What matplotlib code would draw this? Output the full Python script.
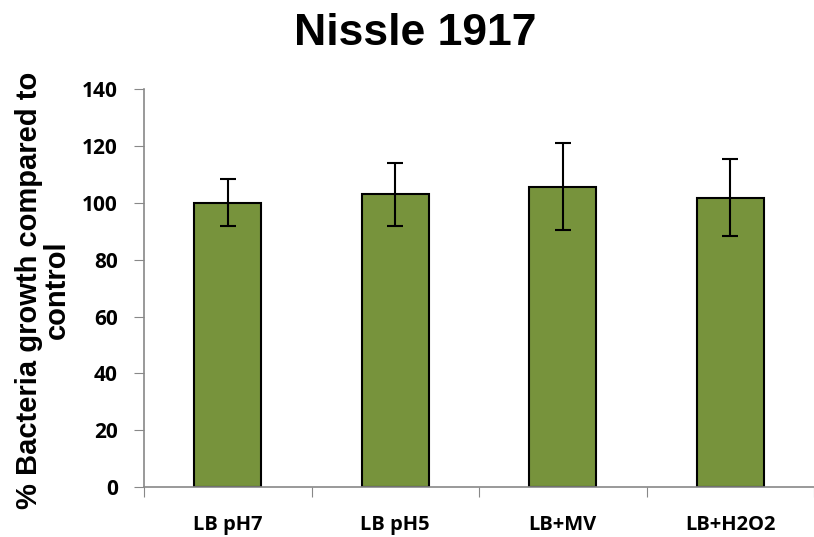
import matplotlib.pyplot as plt

categories = ['LB pH7', 'LB pH5', 'LB+MV', 'LB+H2O2']
values = [100, 103, 105.7, 101.8]
errors = [8.3, 11, 15.3, 13.6]
yticks = [0, 20, 40, 60, 80, 100, 120, 140]

fig = plt.figure(figsize=(8.14, 5.37), dpi=100)
ax = fig.add_axes([0.177, 0.093, 0.823, 0.741])

x = range(len(categories))
ax.bar(x, values, width=0.4, color='#77933C', edgecolor='black', linewidth=1.5,
       yerr=errors, capsize=6, error_kw={'elinewidth': 1.5, 'capthick': 1.5, 'ecolor': 'black'})

ax.set_xlim(-0.5, len(categories) - 0.5)
ax.set_ylim(0, 140)
ax.set_yticks(yticks)
ax.set_yticklabels([str(t) for t in yticks], fontsize=15, fontweight='bold', family='Open Sans')

# x ticks between categories, labels centered under bars
ax.set_xticks([i - 0.5 for i in range(len(categories) + 1)])
ax.set_xticklabels([])
ax.set_xticks(list(x), minor=True)
ax.set_xticklabels(categories, minor=True, fontsize=14.5, fontweight='bold', family='Open Sans')
ax.tick_params(axis='x', which='minor', length=0, pad=20)
ax.tick_params(axis='x', which='major', length=7, color='#888888', direction='out')
ax.tick_params(axis='y', length=7, color='#888888', direction='out', pad=12)

for side in ['top', 'right']:
    ax.spines[side].set_visible(False)
for side in ['left', 'bottom']:
    ax.spines[side].set_color('#888888')
    ax.spines[side].set_linewidth(1.2)

fig.text(0.053, 0.46, '% Bacteria growth compared to\ncontrol', rotation=90, ha='center', va='center',
         fontsize=21, fontweight='bold', family='Liberation Sans', linespacing=1.0,
         multialignment='center')
fig.suptitle('Nissle 1917', fontsize=32, fontweight='bold', family='Liberation Sans', x=0.51, y=0.975)

plt.savefig('out.png', dpi=100)
